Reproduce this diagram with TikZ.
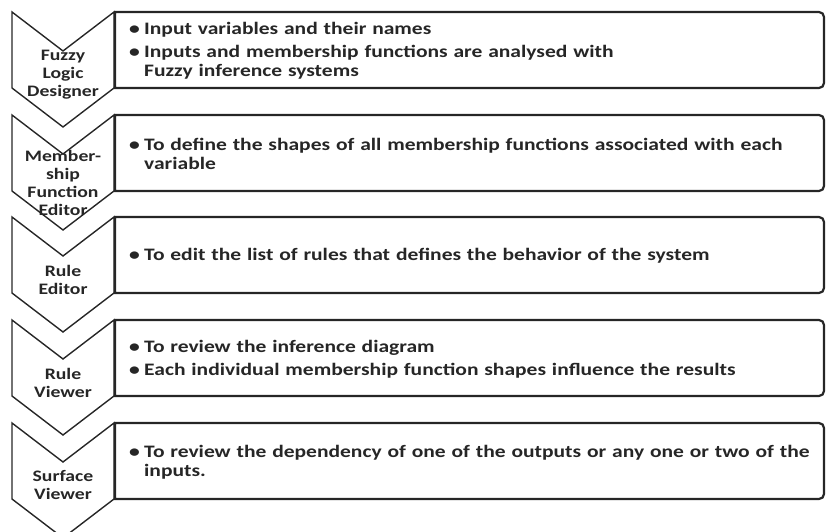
\documentclass[tikz,border=0pt]{standalone}
\usepackage{fontspec}
\setmainfont{Carlito}[FakeStretch=1.23]
\usetikzlibrary{positioning}
\hyphenpenalty=10000

% one bullet line with hanging indent
\newcommand{\bitem}[1]{\hangindent=15pt\hangafter=1\noindent\makebox[15pt][l]{\textbullet}#1\par}

\begin{document}
\begin{tikzpicture}[x=1pt, y=-1pt,
  chevron/.style={draw=black!85, line width=1.4pt, line join=miter},
  boxline/.style={draw=black!85, line width=2.2pt},
  tag/.style={align=center, inner sep=0pt, text=black!85, font=\bfseries\fontsize{16}{18}\selectfont},
  bullets/.style={anchor=west, text width=692pt, align=left, inner sep=0pt, text=black!85,
    font=\bfseries\fontsize{17.5}{19}\selectfont\setlength{\parskip}{4pt}}]
\useasboundingbox (0,0) rectangle (827,532);
% Chevrons down the left
\draw[chevron] (12,12) -- (63,51) -- (114,12) -- (114,88) -- (63,127) -- (12,88) -- cycle;
\draw[chevron] (12,115) -- (63,154) -- (114,115) -- (114,191) -- (63,230) -- (12,191) -- cycle;
\draw[chevron] (12,217) -- (63,256) -- (114,217) -- (114,293) -- (63,332) -- (12,293) -- cycle;
\draw[chevron] (12,320) -- (63,359) -- (114,320) -- (114,396) -- (63,435) -- (12,396) -- cycle;
\draw[chevron] (12,423) -- (63,462) -- (114,423) -- (114,499) -- (63,538) -- (12,499) -- cycle;
\node[tag] (fld) at (63,75) {Fuzzy\\Logic\\Designer};
\node[tag] (mfe) at (63,183) {Member-\\ship\\Function\\Editor};
\node[tag] (re) at (63,280) {Rule\\Editor};
\node[tag] (rv) at (63,383) {Rule\\Viewer};
\node[tag] (sv) at (63,485) {Surface\\Viewer};
% Boxes, square on the left and rounded on the right
\draw[boxline] (115,12) [rounded corners=5pt] -- (824,12) -- (824,88) [sharp corners] -- (115,88) -- cycle;
\draw[boxline] (115,115) [rounded corners=5pt] -- (824,115) -- (824,191) [sharp corners] -- (115,191) -- cycle;
\draw[boxline] (115,217) [rounded corners=5pt] -- (824,217) -- (824,293) [sharp corners] -- (115,293) -- cycle;
\draw[boxline] (115,320) [rounded corners=5pt] -- (824,320) -- (824,396) [sharp corners] -- (115,396) -- cycle;
\draw[boxline] (115,423) [rounded corners=5pt] -- (824,423) -- (824,499) [sharp corners] -- (115,499) -- cycle;
\node[bullets] (t1) at (129,51) {\bitem{Input variables and their names}\bitem{Inputs and membership functions are analysed with\newline Fuzzy inference systems}};
\node[bullets] (t2) at (129,154) {\bitem{To define the shapes of all membership functions associated with each variable}};
\node[bullets] (t3) at (129,256) {\bitem{To edit the list of rules that defines the behavior of the system}};
\node[bullets] (t4) at (129,359) {\bitem{To review the inference diagram}\bitem{Each individual membership function shapes influence the results}};
\node[bullets] (t5) at (129,462) {\bitem{To review the dependency of one of the outputs or any one or two of the inputs.}};
\end{tikzpicture}
\end{document}
